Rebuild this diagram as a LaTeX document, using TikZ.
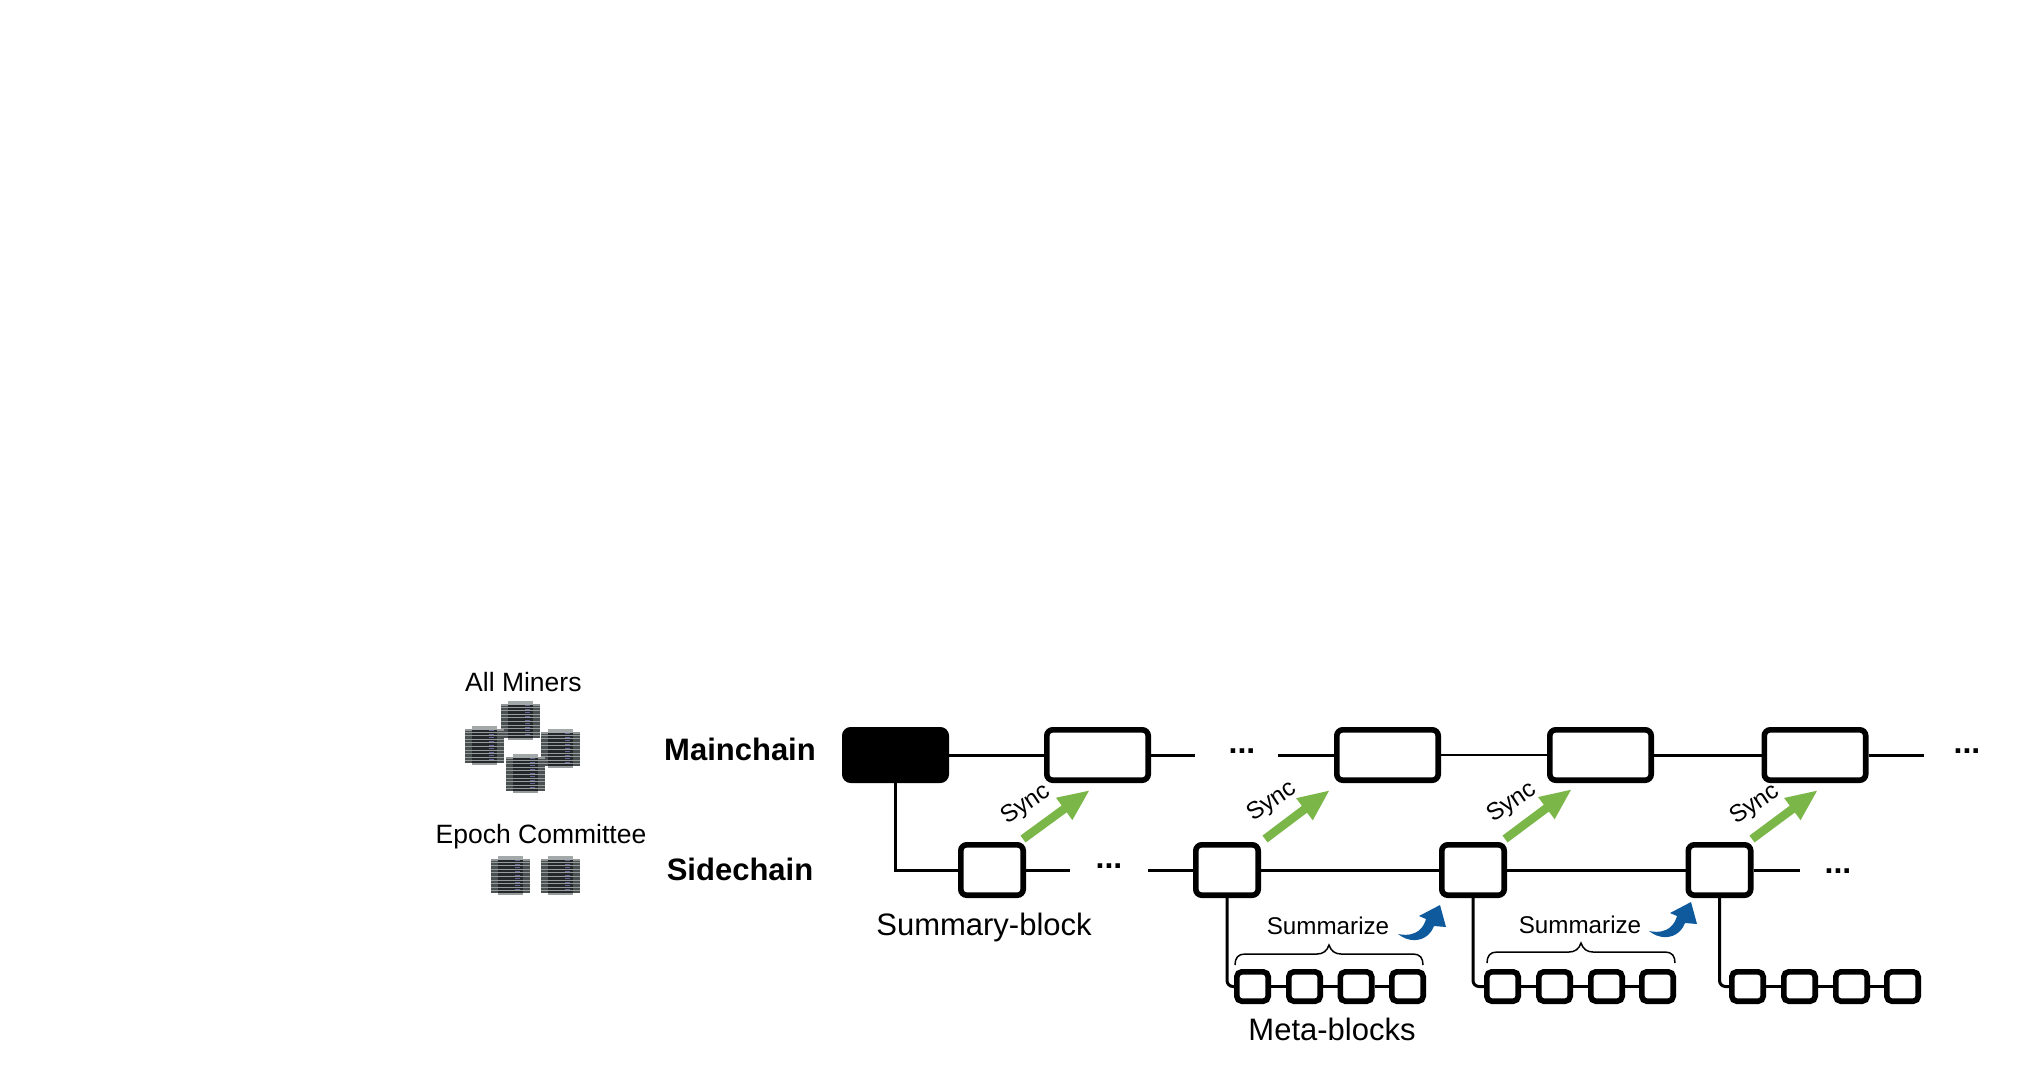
\documentclass[tikz,border=0pt]{standalone}
\usepackage{fontspec}
\setmainfont{Liberation Sans}
\usetikzlibrary{arrows.meta}
\definecolor{syncgreen}{HTML}{7AB648}
\definecolor{sumblue}{HTML}{0F5A9C}
\definecolor{srvdark}{HTML}{24282B}
\definecolor{srvside}{HTML}{4A4F50}
\definecolor{srvline}{HTML}{979D9D}
\definecolor{srvcap}{HTML}{A3A8A8}
\tikzset{
  block/.style={draw=black,line width=5.6pt,rounded corners=6pt,fill=white,inner sep=0pt,minimum height=50.4pt},
  mainblock/.style={block,minimum width=101.4pt},
  genesis/.style={mainblock,fill=black},
  sideblock/.style={block,minimum width=62.4pt},
  metablock/.style={block,rounded corners=5pt,minimum width=31.4pt,minimum height=29.4pt},
  link/.style={draw=black,line width=3pt},
  thinlink/.style={draw=black,line width=2pt},
  syncarrow/.style={draw=syncgreen,line width=8.5pt,-{Triangle[length=32pt,width=25pt]}},
  txt/.style={inner sep=0pt,anchor=base,text=black},
  t24/.style={txt,font=\fontsize{26.5}{30}\selectfont},
  tsum/.style={txt,font=\fontsize{24.2}{28}\selectfont},
  t31/.style={txt,font=\fontsize{31}{36}\selectfont},
  tbold/.style={txt,font=\bfseries\fontsize{31}{34}\selectfont},
  tdots/.style={txt,font=\bfseries\fontsize{32}{36}\selectfont},
  tsync/.style={inner sep=0pt,text=black,rotate=34,font=\fontsize{24.2}{28}\selectfont},
  srv/.pic={
    \begin{scope}[xscale=1.06]
    \fill[srvside] (0,3) rectangle (37,37);
    \fill[srvdark] (7,0) rectangle (30,39);
    \foreach \i in {6,9.6,13.2,16.8,20.4,24,27.6,31.2,34.8}{
      \draw[srvline,line width=.9pt] (0,\i) -- (37,\i);
      \fill[srvdark] (7.5,\i+.5) rectangle (8.5,\i+2.5);
      \fill[srvdark] (28.5,\i+.5) rectangle (29.5,\i+2.5);
      \fill[black!70!blue!60!white] (23,\i-1.9) rectangle (27,\i-.8);
    }
    \fill[srvcap] (7,0) rectangle (30,4);
    \fill[srvside!60!white] (0,2.5) rectangle (7,4.5);
    \fill[srvside!60!white] (30,2.5) rectangle (37,4.5);
    \fill[srvline] (7,36.5) rectangle (30,39);
    \end{scope}
  },
  sumarrow/.pic={
    \fill[sumblue] (0,0) .. controls (10,8) and (22,8) .. (30,1)
      .. controls (33,-2) and (35,-5) .. (36,-8) -- (48,-7) -- (42,-29) -- (21,-18) -- (28,-15)
      .. controls (26,-8) and (20,4) .. (0,0) -- cycle;
  },
  bracemark/.pic={
    \draw[black,line width=1.5pt] (0,11) .. controls (0,4) and (3,0) .. (10,0) -- (82,0)
      .. controls (88,0) and (92,-3) .. (94,-9) .. controls (96,-3) and (100,0) .. (106,0)
      -- (178,0) .. controls (185,0) and (188,4) .. (188,11);
  }
}
\begin{document}
\begin{tikzpicture}[x=1pt,y=-1pt]
\fill[white] (0,0) rectangle (2034,1088);
\useasboundingbox (0,0) rectangle (2034,1088);

% servers
\pic at (501,701) {srv};
\pic at (465,726) {srv};
\pic at (541,729) {srv};
\pic at (506,754) {srv};
\pic at (491,856) {srv};
\pic at (541,856) {srv};

% labels
\node[t24] (allminers) at (523.4,691) {All Miners};
\node[t24] (epoch) at (541,843) {Epoch Committee};
\node[tbold] (mainlabel) at (740,760) {Mainchain};
\node[tbold] (sidelabel) at (740,880) {Sidechain};
\node[t31] (sumblock) at (984,935) {Summary-block};
\node[t31] (metalabel) at (1332,1040) {Meta-blocks};
\node[tsum] (sum1) at (1328,934) {Summarize};
\node[tsum] (sum2) at (1580,933) {Summarize};

% mainchain
\node[genesis] (g) at (895.5,755) {};
\node[mainblock] (m1) at (1097.5,755) {};
\node[mainblock] (m2) at (1387.5,755) {};
\node[mainblock] (m3) at (1600.5,755) {};
\node[mainblock] (m4) at (1815,755) {};
% sidechain
\node[sideblock] (s1) at (992,870) {};
\node[sideblock] (s2) at (1227,870) {};
\node[sideblock] (s3) at (1473,870) {};
\node[sideblock] (s4) at (1719.5,870) {};
% meta blocks
\node[metablock] (a1) at (1252.5,986.5) {};
\node[metablock] (a2) at (1304.5,986.5) {};
\node[metablock] (a3) at (1356,986.5) {};
\node[metablock] (a4) at (1407.5,986.5) {};
\node[metablock] (b1) at (1502.5,986.5) {};
\node[metablock] (b2) at (1554.5,986.5) {};
\node[metablock] (b3) at (1606.5,986.5) {};
\node[metablock] (b4) at (1657.5,986.5) {};
\node[metablock] (c1) at (1747.5,986.5) {};
\node[metablock] (c2) at (1799.5,986.5) {};
\node[metablock] (c3) at (1851.5,986.5) {};
\node[metablock] (c4) at (1902.5,986.5) {};

% free ends
\coordinate (me1) at (1195,755);
\coordinate (ms2) at (1278,755);
\coordinate (me4) at (1924,755);
\coordinate (se1) at (1070,870);
\coordinate (ss2) at (1148,870);
\coordinate (se4) at (1800,870);

% dots
\node[tdots] (dm1) at (1242,753) {...};
\node[tdots] (dm2) at (1967,753) {...};
\node[tdots] (ds1) at (1109,868) {...};
\node[tdots] (ds2) at (1838,873) {...};

% chain links
\draw[link] (g.east) -- (m1.west);
\draw[link] (m1.east) -- (me1);
\draw[link] (ms2) -- (m2.west);
\draw[thinlink] (m2.east) -- (m3.west);
\draw[link] (m3.east) -- (m4.west);
\draw[link] (m4.east) -- (me4);
\draw[link] (g.south) |- (s1.west);
\draw[link] (s1.east) -- (se1);
\draw[link] (ss2) -- (s2.west);
\draw[link] (s2.east) -- (s3.west);
\draw[link] (s3.east) -- (s4.west);
\draw[link] (s4.east) -- (se4);
\draw[link,rounded corners=6pt] (s2.south) |- (a1.west);
\draw[link,rounded corners=6pt] (s3.south) |- (b1.west);
\draw[link,rounded corners=6pt] (s4.south) |- (c1.west);
\foreach \p in {a,b,c}{
  \draw[link] (\p1.east) -- (\p2.west);
  \draw[link] (\p2.east) -- (\p3.west);
  \draw[link] (\p3.east) -- (\p4.west);
}

% sync arrows
\coordinate (t1) at (1023,839); \coordinate (h1) at (1090,790);
\coordinate (t2) at (1265,839); \coordinate (h2) at (1330,790);
\coordinate (t3) at (1505,839); \coordinate (h3) at (1572,789);
\coordinate (t4) at (1752,839); \coordinate (h4) at (1818,790);
\draw[syncarrow] (t1) -- (h1);
\draw[syncarrow] (t2) -- (h2);
\draw[syncarrow] (t3) -- (h3);
\draw[syncarrow] (t4) -- (h4);
\node[tsync] (y1) at (1026,805) {Sync};
\node[tsync] (y2) at (1272,802) {Sync};
\node[tsync] (y3) at (1512,803) {Sync};
\node[tsync] (y4) at (1755,805) {Sync};

% summarize marks
\pic at (1235,954) {bracemark};
\pic at (1487,952) {bracemark};
\pic at (1398,934) {sumarrow};
\pic at (1649,931) {sumarrow};
\end{tikzpicture}
\end{document}
